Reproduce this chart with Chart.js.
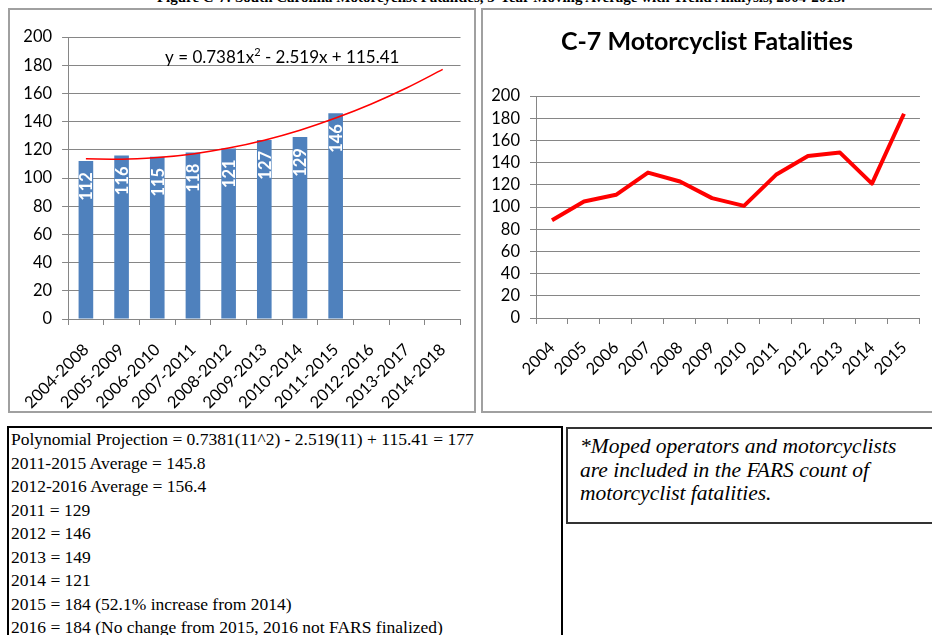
<!DOCTYPE html>
<html>
<head>
<meta charset="utf-8">
<script src="https://cdn.jsdelivr.net/npm/chart.js@4.4.0/dist/chart.umd.min.js"></script>
<style>
  body { margin: 0; width: 932px; height: 635px; overflow: hidden; background: #fff; position: relative; }
  .frame { position: absolute; box-sizing: border-box; border: 2px solid #a0a0a0; }
  .holder { position: absolute; }
  #figTitle { position: absolute; left: 0; width: 1002px; top: -10px; text-align: center;
    font: bold 15px "Liberation Serif"; line-height: 15px; white-space: nowrap; }
  #calc { position: absolute; left: 7px; top: 426px; width: 556px; height: 215px; box-sizing: border-box;
    border: 2px solid #000; font: 17.5px "Liberation Serif"; line-height: 23.5px; padding-left: 2px; }
  #note { position: absolute; left: 566px; top: 427px; width: 380px; height: 97px; box-sizing: border-box;
    border: 2px solid #333; font: italic 21.5px "Liberation Serif"; line-height: 23.5px; padding: 6px 0 0 12px; }
</style>
</head>
<body>
<div id="figTitle">Figure C-7: South Carolina Motorcyclist Fatalities, 5-Year Moving Average with Trend Analysis, 2004-2015.</div>

<div class="frame" style="left:8px;top:8px;width:468px;height:405px"></div>
<div class="frame" style="left:481px;top:8px;width:460px;height:405px"></div>
<div class="holder" style="left:10px;top:10px;width:462px;height:400px"><canvas id="avgChart"></canvas></div>
<div class="holder" style="left:483px;top:10px;width:449px;height:400px"><canvas id="lineChart"></canvas></div>

<div id="calc"></div>
<div id="note"></div>

<script>
// 5-year moving averages (left chart)
const periods = ["2004-2008","2005-2009","2006-2010","2007-2011","2008-2012","2009-2013",
  "2010-2014","2011-2015","2012-2016","2013-2017","2014-2018"]
const movingAvg = [112, 116, 115, 118, 121, 127, 129, 146, null, null, null]
// polynomial trend line values
const trendValues = [113.6, 113.3, 114.5, 117.1, 121.2, 126.8, 133.9, 142.5, 152.5, 164.0, 177.0]
const trendLabel = ["y = 0.7381x", "2", " - 2.519x + 115.41"]

// yearly fatalities (right chart)
const years = ["2004","2005","2006","2007","2008","2009","2010","2011","2012","2013","2014","2015"]
const fatalities = [88, 105, 111, 131, 123, 108, 101, 129, 146, 149, 121, 184]

const calcRows = [
  "Polynomial Projection = 0.7381(11^2) - 2.519(11) + 115.41 = 177",
  "2011-2015 Average = 145.8",
  "2012-2016 Average = 156.4",
  "2011 = 129",
  "2012 = 146",
  "2013 = 149",
  "2014 = 121",
  "2015 = 184 (52.1% increase from 2014)",
  "2016 = 184 (No change from 2015, 2016 not FARS finalized)"
]
const noteLines = ["*Moped operators and motorcyclists", "are included in the FARS count of", "motorcyclist fatalities."]

document.getElementById("calc").innerHTML = calcRows.map(r => "<div>" + r + "</div>").join("")
document.getElementById("note").innerHTML = noteLines.join("<br>")

Chart.defaults.font.family = "Lato"
Chart.defaults.color = "#000"
const gridGray = "#868686"

// white rotated value labels inside the bars
const barLabels = {
  id: "barLabels",
  afterDatasetsDraw(chart) {
    const ctx = chart.ctx
    const meta = chart.getDatasetMeta(1)
    ctx.save()
    ctx.fillStyle = "#fff"
    ctx.font = "bold 16.5px Lato"
    ctx.textAlign = "right"
    ctx.textBaseline = "middle"
    meta.data.forEach((bar, i) => {
      if (movingAvg[i] == null) return
      ctx.save()
      ctx.translate(bar.x + 1, bar.y + 11)
      ctx.rotate(-Math.PI / 2)
      ctx.fillText(String(movingAvg[i]), 0, 0)
      ctx.restore()
    })
    ctx.restore()
  }
}

// trend equation text
const equation = {
  id: "equation",
  afterDraw(chart) {
    const ctx = chart.ctx
    let x = chart.chartArea.left + 97
    const y = chart.chartArea.top + 26
    ctx.save()
    ctx.fillStyle = "#000"
    ctx.textBaseline = "alphabetic"
    ctx.font = "17px Lato"
    ctx.fillText(trendLabel[0], x, y)
    x += ctx.measureText(trendLabel[0]).width
    ctx.font = "11px Lato"
    ctx.fillText(trendLabel[1], x, y - 7)
    x += ctx.measureText(trendLabel[1]).width
    ctx.font = "17px Lato"
    ctx.fillText(trendLabel[2], x, y)
    ctx.restore()
  }
}

new Chart(document.getElementById("avgChart"), {
  type: "bar",
  data: {
    labels: periods,
    datasets: [{
      type: "line",
      data: trendValues,
      borderColor: "#ff0000",
      borderWidth: 1.5,
      pointRadius: 0,
      cubicInterpolationMode: "monotone",
      order: 0
    }, {
      data: movingAvg,
      backgroundColor: "#4f81bd",
      categoryPercentage: 1,
      barPercentage: 0.41,
      order: 1
    }]
  },
  options: {
    responsive: true,
    maintainAspectRatio: false,
    animation: false,
    layout: { padding: { top: 27, right: 9, left: 0, bottom: 0 } },
    plugins: { legend: { display: false }, tooltip: { enabled: false } },
    scales: {
      x: {
        offset: true,
        grid: { offset: true, drawOnChartArea: false, color: gridGray, tickLength: 6 },
        border: { color: gridGray },
        ticks: { font: { size: 16.5 }, maxRotation: 45, minRotation: 45, padding: 15, autoSkip: false },
        afterFit: s => { s.height = 91 }
      },
      y: {
        min: 0, max: 200,
        grid: { color: gridGray, tickLength: 6 },
        border: { color: gridGray },
        ticks: { stepSize: 20, font: { size: 16.5 }, padding: 10, autoSkip: false },
        afterFit: s => { s.width = 56 }
      }
    }
  },
  plugins: [barLabels, equation]
})

new Chart(document.getElementById("lineChart"), {
  type: "line",
  data: {
    labels: years,
    datasets: [{
      data: fatalities,
      borderColor: "#ff0000",
      borderWidth: 4,
      borderJoinStyle: "round",
      pointRadius: 0,
      tension: 0
    }]
  },
  options: {
    responsive: true,
    maintainAspectRatio: false,
    animation: false,
    layout: { padding: { top: 0, right: 1, left: 0, bottom: 0 } },
    plugins: {
      legend: { display: false },
      tooltip: { enabled: false },
      title: {
        display: true,
        text: "C-7 Motorcyclist Fatalities",
        font: { size: 25, weight: "bold", lineHeight: 1.2 },
        color: "#000",
        padding: { top: 17, bottom: 39 }
      }
    },
    scales: {
      x: {
        offset: true,
        grid: { offset: true, drawOnChartArea: false, color: gridGray, tickLength: 6 },
        border: { color: gridGray },
        ticks: { font: { size: 16.5 }, maxRotation: 45, minRotation: 45, padding: 14, autoSkip: false },
        afterFit: s => { s.height = 92 }
      },
      y: {
        min: 0, max: 200,
        grid: { color: gridGray, tickLength: 6 },
        border: { color: gridGray },
        ticks: { stepSize: 20, font: { size: 16.5 }, padding: 10, autoSkip: false },
        afterFit: s => { s.width = 53 }
      }
    }
  }
})
</script>
</body>
</html>
